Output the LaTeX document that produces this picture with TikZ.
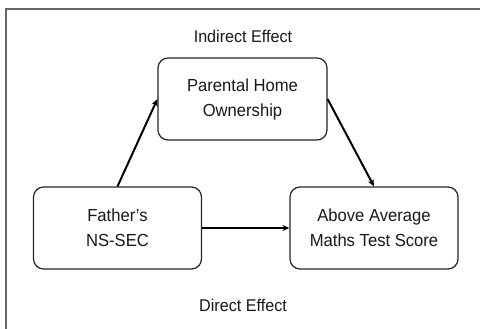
\documentclass[tikz,border=0pt]{standalone}
\usepackage{fontspec}
\setmainfont[FakeStretch=0.95]{Liberation Sans}
\usetikzlibrary{arrows.meta}
\tikzset{
  box/.style={draw=black!85, line width=1.2pt, rounded corners=10pt, minimum width=168pt, minimum height=82pt, align=center, font=\fontsize{17.5}{25}\selectfont, text=black!90},
  lbl/.style={font=\fontsize{17}{20}\selectfont, text=black!90},
  arr/.style={draw=black, line width=2pt, -{Stealth[length=7pt,width=6pt]}},
  frame/.style={draw=black!60, line width=1.4pt}
}
\begin{document}
\begin{tikzpicture}[x=1pt,y=-1pt]
\useasboundingbox (0,0) rectangle (480,329);
\fill[white] (0,0) rectangle (480,329);
\coordinate (fa) at (6,329);
\coordinate (fb) at (6,9);
\coordinate (fc) at (480,9);
\draw[frame] (fa) -- (fb) -- (fc);
\node[box, minimum width=169pt] (p) at (242.5,99) {Parental Home\\Ownership};
\node[box] (f) at (117.5,228) {Father's\\NS-SEC};
\node[box] (a) at (374,228) {Above Average\\Maths Test Score};
\node[lbl] (ind) at (243,36) {Indirect Effect};
\node[lbl] (dir) at (243,305) {Direct Effect};
\draw[arr] (f.north) -- (p.west);
\draw[arr] (p.east) -- (a.north);
\draw[arr] (f.east) -- (a.west);
\end{tikzpicture}
\end{document}
